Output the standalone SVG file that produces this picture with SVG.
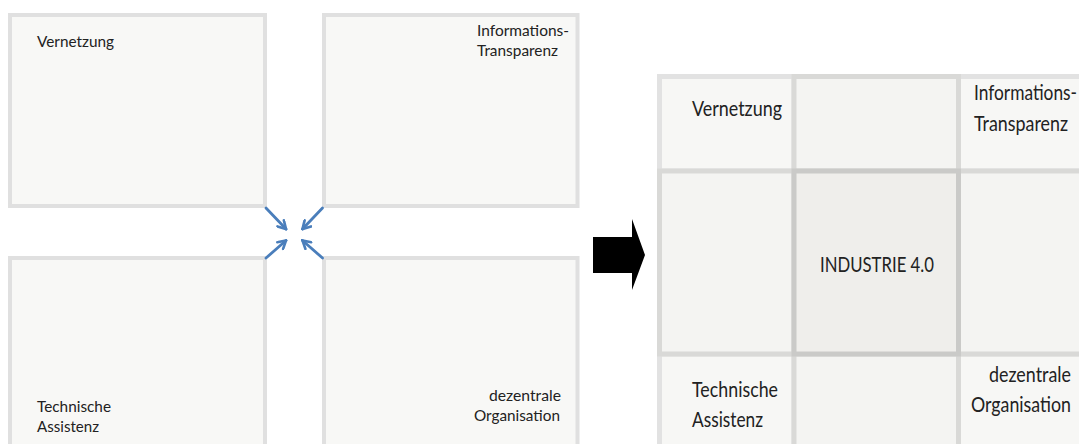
<svg xmlns="http://www.w3.org/2000/svg" width="1079" height="444" viewBox="0 0 1079 444">
  <style>
    .box { fill: #f8f8f6; stroke: #e0e0e0; stroke-width: 4; }
    .corner { fill: #f7f7f5; stroke: #e2e2e2; stroke-width: 5; }
    .cross { fill: #f4f4f2; stroke: #d9d9d7; stroke-width: 5; }
    .center { fill: #efeeeb; stroke: #cacac8; stroke-width: 5; }
    .t { font-family: Lato, "Liberation Sans", sans-serif; fill: #222222; }
    .s { font-size: 16px; }
    .b { font-size: 22px; }
    .arr { fill: none; stroke: #4a7ebb; stroke-width: 2.8; stroke-linecap: round; }
  </style>
  <defs>
    <marker id="head" viewBox="0 0 10 10" refX="8.5" refY="5" markerWidth="11" markerHeight="11" markerUnits="userSpaceOnUse" orient="auto">
      <path d="M1.5,1 L8.5,5 L1.5,9" fill="none" stroke="#4a7ebb" stroke-width="2.4" stroke-linecap="round" stroke-linejoin="miter"/>
    </marker>
  </defs>
  <rect width="1079" height="444" fill="#ffffff"/>

  <!-- left: four separate boxes -->
  <g id="left-vernetzung">
    <rect class="box" x="10" y="15" width="255" height="191"/>
    <text class="t s" x="37" y="46.5" textLength="77" lengthAdjust="spacingAndGlyphs">Vernetzung</text>
  </g>
  <g id="left-informationstransparenz">
    <rect class="box" x="324" y="15" width="253.5" height="191"/>
    <text class="t s" x="477" y="36" textLength="92" lengthAdjust="spacingAndGlyphs">Informations-</text>
    <text class="t s" x="477" y="55.5" textLength="81" lengthAdjust="spacingAndGlyphs">Transparenz</text>
  </g>
  <g id="left-technische-assistenz">
    <rect class="box" x="10" y="258" width="255" height="200"/>
    <text class="t s" x="37" y="411.5" textLength="74" lengthAdjust="spacingAndGlyphs">Technische</text>
    <text class="t s" x="37" y="432" textLength="62" lengthAdjust="spacingAndGlyphs">Assistenz</text>
  </g>
  <g id="left-dezentrale-organisation">
    <rect class="box" x="324" y="258" width="253.5" height="200"/>
    <text class="t s" x="489" y="400.5" textLength="72" lengthAdjust="spacingAndGlyphs">dezentrale</text>
    <text class="t s" x="474" y="421" textLength="86" lengthAdjust="spacingAndGlyphs">Organisation</text>
  </g>

  <!-- right: 3x3 grid -->
  <g id="grid-vernetzung">
    <rect class="corner" x="659.5" y="76.5" width="134.5" height="94.5"/>
    <text class="t b" x="692" y="116" textLength="90" lengthAdjust="spacingAndGlyphs">Vernetzung</text>
  </g>
  <g id="grid-informationstransparenz">
    <rect class="corner" x="958.5" y="76.5" width="160" height="94.5"/>
    <text class="t b" x="974" y="100" textLength="103" lengthAdjust="spacingAndGlyphs">Informations-</text>
    <text class="t b" x="974" y="131" textLength="94" lengthAdjust="spacingAndGlyphs">Transparenz</text>
  </g>
  <g id="grid-technische-assistenz">
    <rect class="corner" x="659.5" y="354" width="134.5" height="120"/>
    <text class="t b" x="692" y="397" textLength="86" lengthAdjust="spacingAndGlyphs">Technische</text>
    <text class="t b" x="692" y="427" textLength="71" lengthAdjust="spacingAndGlyphs">Assistenz</text>
  </g>
  <g id="grid-dezentrale-organisation">
    <rect class="corner" x="958.5" y="354" width="160" height="120"/>
    <text class="t b" x="989" y="381.5" textLength="82" lengthAdjust="spacingAndGlyphs">dezentrale</text>
    <text class="t b" x="971" y="411.5" textLength="100" lengthAdjust="spacingAndGlyphs">Organisation</text>
  </g>
  <g id="grid-top-middle">
    <rect class="cross" x="794" y="76.5" width="164.5" height="94.5"/>
  </g>
  <g id="grid-middle-left">
    <rect class="cross" x="659.5" y="171" width="134.5" height="183"/>
  </g>
  <g id="grid-middle-right">
    <rect class="cross" x="958.5" y="171" width="160" height="183"/>
  </g>
  <g id="grid-bottom-middle">
    <rect class="cross" x="794" y="354" width="164.5" height="120"/>
  </g>
  <g id="grid-industrie">
    <rect class="center" x="794" y="171" width="164.5" height="183"/>
    <text class="t b" x="820" y="272" textLength="114" lengthAdjust="spacingAndGlyphs">INDUSTRIE 4.0</text>
  </g>

  <!-- connectors -->
  <g id="connectors">
    <path class="arr" d="M266,208 L286,229" marker-end="url(#head)"/>
    <path class="arr" d="M322.5,208 L302.5,229" marker-end="url(#head)"/>
    <path class="arr" d="M266,258 L286,240.5" marker-end="url(#head)"/>
    <path class="arr" d="M322.5,258 L302.5,240.5" marker-end="url(#head)"/>
    <polygon id="transition-arrow" points="593,237 632,237 632,219 645,255 632,290 632,273 593,273" fill="#000000"/>
  </g>
</svg>
